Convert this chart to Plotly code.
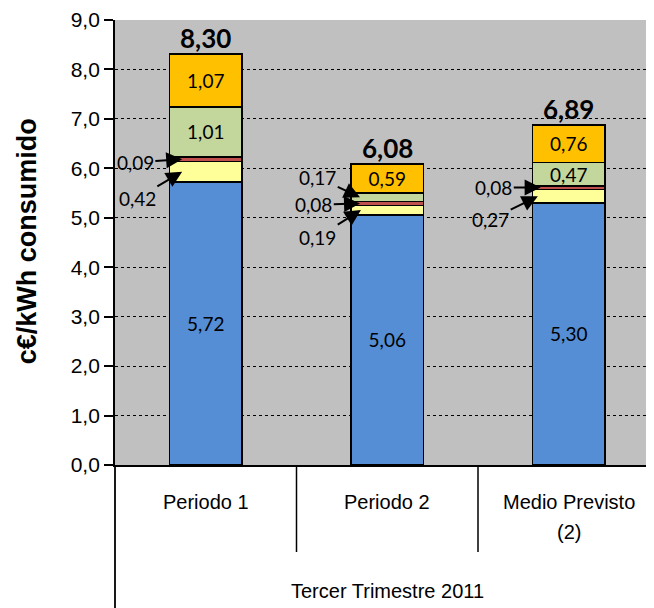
import plotly.graph_objects as go

# ---------------- data ----------------
cat_line1 = ["Periodo 1", "Periodo 2", "Medio Previsto"]
cat_line2 = ["", "", "(2)"]
group_label = "Tercer Trimestre 2011"
y_title = "c€/kWh consumido"

serie_azul = [5.72, 5.06, 5.30]
serie_amarilla = [0.42, 0.19, 0.27]
serie_roja = [0.09, 0.08, 0.08]
serie_verde = [1.01, 0.17, 0.47]
serie_naranja = [1.07, 0.59, 0.76]
totales = [8.30, 6.08, 6.89]
y_ticks = [0, 1, 2, 3, 4, 5, 6, 7, 8, 9]

# ---------------- styling / layout ----------------
series = [
    ("azul", serie_azul, "#558ED5"),
    ("amarilla", serie_amarilla, "#FFFF99"),
    ("roja", serie_roja, "#C0504D"),
    ("verde", serie_verde, "#C3D69B"),
    ("naranja", serie_naranja, "#FFC000"),
]

# callouts: (category index, series name, text dx, text dy from segment mid, tip dx)
callouts = [
    (0, "roja", -0.388, -0.06, -0.13),
    (0, "amarilla", -0.377, -0.53, -0.13),
    (1, "verde", -0.383, 0.40, -0.15),
    (1, "roja", -0.405, -0.03, -0.15),
    (1, "amarilla", -0.383, -0.55, -0.145),
    (2, "roja", -0.413, 0.0, -0.155),
    (2, "amarilla", -0.43, -0.47, -0.17),
]

LABEL_FONT = "Lato"
AXIS_FONT = "Liberation Sans"
x_range = [-0.5, 2.4697]
bar_width = 0.40
LBL = 19


def fmt(v):
    return f"{v:.2f}".replace(".", ",")


def inside_label(name, v):
    if name in ("azul", "naranja"):
        return fmt(v)
    if name == "verde" and v >= 0.3:
        return fmt(v)
    return ""


xs = list(range(len(cat_line1)))
fig = go.Figure()
for name, vals, color in series:
    fig.add_trace(go.Bar(
        x=xs, y=vals, name=name, width=bar_width,
        marker=dict(color=color, line=dict(color="black", width=1.8)),
        text=[inside_label(name, v) for v in vals],
        textposition="inside", insidetextanchor="middle", textangle=0,
        textfont=dict(family=LABEL_FONT, size=LBL, color="black"),
        showlegend=False, hoverinfo="skip",
    ))

# cumulative bases
bases = {}
run = [0.0] * len(xs)
for name, vals, _ in series:
    bases[name] = list(run)
    run = [r + v for r, v in zip(run, vals)]
stack_tops = run

annotations = []
# totals
for i, t in enumerate(totales):
    annotations.append(dict(
        x=i, y=stack_tops[i], xref="x", yref="y", text=f"<b>{fmt(t)}</b>",
        showarrow=False, yanchor="bottom", yshift=-2,
        font=dict(family=LABEL_FONT, size=26, color="black"),
    ))

# callouts with arrows
vals_by_name = {n: v for n, v, _ in series}
for i, name, tdx, tdy, tipdx in callouts:
    v = vals_by_name[name][i]
    mid = bases[name][i] + v / 2
    annotations.append(dict(
        x=i + tipdx, y=mid, xref="x", yref="y",
        ax=i + tdx, ay=mid + tdy, axref="x", ayref="y",
        text=fmt(v), showarrow=True, arrowhead=2, arrowsize=1.6,
        arrowwidth=2, arrowcolor="black", standoff=0,
        font=dict(family=LABEL_FONT, size=LBL, color="black"),
    ))

# category labels
span = x_range[1] - x_range[0]
cat_font = dict(family=AXIS_FONT, size=20, color="black")
for i in xs:
    annotations.append(dict(
        x=i, y=-0.083, xref="x", yref="paper", text=cat_line1[i],
        xanchor="center", yanchor="middle", showarrow=False, font=cat_font,
    ))
    if cat_line2[i]:
        annotations.append(dict(
            x=i, y=-0.151, xref="x", yref="paper", text=cat_line2[i],
            xanchor="center", yanchor="middle", showarrow=False, font=cat_font,
        ))
annotations.append(dict(
    x=(xs[0] + xs[-1]) / 2, y=-0.283, xref="x", yref="paper", text=group_label,
    xanchor="center", yanchor="middle", showarrow=False, font=cat_font,
))
# y-axis title
annotations.append(dict(
    x=-0.163, y=0.503, xref="paper", yref="paper", text=f"<b>{y_title}</b>",
    xanchor="center", yanchor="middle", textangle=-90, showarrow=False,
    font=dict(family=AXIS_FONT, size=27, color="black"),
))

shapes = []
for i in xs[:-1]:
    px = (i + 0.5 - x_range[0]) / span
    shapes.append(dict(type="line", xref="paper", yref="paper",
                       x0=px, x1=px, y0=0, y1=-0.1955,
                       line=dict(color="black", width=1.5)))
shapes.append(dict(type="line", xref="paper", yref="paper",
                   x0=0, x1=0, y0=0, y1=-0.33,
                   line=dict(color="black", width=1.8)))

# page body has an 8px margin: figure is 646x600 so it ends at the window edge
fig.update_layout(
    barmode="stack",
    width=646, height=600,
    margin=dict(l=107, r=0, t=12, b=143),
    paper_bgcolor="white", plot_bgcolor="#C0C0C0",
    separators=",.",
    annotations=annotations, shapes=shapes,
    uniformtext=dict(minsize=LBL, mode="show"),
    xaxis=dict(range=x_range, showticklabels=False, ticks="", showgrid=False,
               zeroline=False, showline=True, linecolor="black", linewidth=1.8,
               fixedrange=True),
    yaxis=dict(range=[0, 9], tickvals=y_ticks, tickformat=".1f",
               showgrid=True, gridcolor="black", griddash="dot", gridwidth=1.3,
               zeroline=False, showline=True, linecolor="black", linewidth=1.8,
               ticks="outside", ticklen=9, tickcolor="black", tickwidth=1.5,
               tickfont=dict(family=AXIS_FONT, size=21, color="black"),
               fixedrange=True),
)

fig.write_html("out.html")
